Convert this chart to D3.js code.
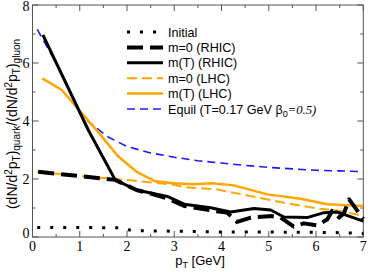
<!DOCTYPE html>
<html><head><meta charset="utf-8">
<script src="https://cdn.jsdelivr.net/npm/d3@7"></script>
<style>body{margin:0;background:#fff}svg{display:block}</style>
</head><body>
<svg id="c" width="368" height="272"></svg>
<script>
// ---- data ----
const xTicks = [0,1,2,3,4,5,6,7];
const yTicks = [0,2,4,6,8];
const initialX = [0.1,1.9,2.1,3,4,5,6,6.5,7];
const initialY = [0.33,0.32,0.22,0.2,0.17,0.17,0.16,0.15,0.12];
const mtRhicX = [0.22,1.18,1.75,2.2,2.5,2.85,3.21,3.77,4.19,4.69,5.04,5.32,5.81,6.17,6.45,7.0];
const mtRhicY = [6.97,3.69,1.97,1.62,1.52,1.4,1.13,1.01,0.86,0.98,0.93,0.69,0.67,0.84,0.86,0.55];
const m0RhicX = [0.12,1.0,1.75,2.2,2.5,2.85,3.21,3.84,4.12,4.33,4.62,5.07,5.25,5.53,5.74,6.03,6.24,6.34,6.49,6.59,6.7,7.0];
const m0RhicY = [2.25,2.1,1.97,1.62,1.5,1.33,1.07,0.9,0.84,0.52,0.67,0.72,0.67,0.36,0.47,0.40,0.61,0.9,0.67,0.82,1.3,0.62];
const m0LhcX = [0.1,1.0,2.0,3.0,3.21,3.91,4.62,5.32,6.03,6.52,7.0];
const m0LhcY = [2.25,2.1,1.97,1.8,1.72,1.64,1.41,1.18,0.98,0.9,0.72];
const mtLhcX = [0.21,0.62,1.4,1.8,2.2,2.6,3.0,3.4,3.8,4.26,4.97,5.67,6.24,7.0];
const mtLhcY = [5.47,5.07,3.6,2.8,2.25,1.92,1.85,1.82,1.85,1.78,1.47,1.32,1.13,1.07];
const eqX = [0.1,0.5,0.8,1.0,1.2,1.4,1.6,2.0,2.5,3.0,3.5,4.0,4.5,5.0,5.5,6.0,6.5,7.0];
const eqY = [7.16,6.0,5.0,4.3,3.95,3.7,3.45,3.12,2.9,2.75,2.63,2.55,2.47,2.4,2.35,2.3,2.28,2.25];
const legendLabels = ["Initial","m=0 (RHIC)","m(T) (RHIC)","m=0 (LHC)","m(T) (LHC)","Equil (T=0.17 GeV β"];

// ---- layout ----
const L=32.5, R=363.3, T=5, B=237;
const svg = d3.select("#c");
const x = d3.scaleLinear().domain([0,7]).range([L,R]);
const y = d3.scaleLinear().domain([0,8]).range([B,T]);
const axisCol = "#555";
const serif = "'Liberation Serif','Times New Roman',serif";
const sans = "'Liberation Sans',Arial,Helvetica,sans-serif";

// frame
svg.append("rect").attr("x",L).attr("y",T).attr("width",R-L).attr("height",B-T)
  .attr("fill","none").attr("stroke",axisCol).attr("stroke-width",1);

// ticks (inside)
const xMinor = d3.range(0,7.01,0.5);
const yMinor = d3.range(0,8.01,1);
const tg = svg.append("g").attr("stroke",axisCol).attr("stroke-width",1);
xMinor.forEach(v=>{
  const maj = Number.isInteger(v); const len = maj?6:3;
  tg.append("line").attr("x1",x(v)).attr("x2",x(v)).attr("y1",B).attr("y2",B-len);
  tg.append("line").attr("x1",x(v)).attr("x2",x(v)).attr("y1",T).attr("y2",T+len);
});
yMinor.forEach(v=>{
  const maj = v%2===0; const len = maj?6:3;
  tg.append("line").attr("y1",y(v)).attr("y2",y(v)).attr("x1",L).attr("x2",L+len);
  tg.append("line").attr("y1",y(v)).attr("y2",y(v)).attr("x1",R).attr("x2",R-len);
});
// tick labels
svg.append("g").selectAll("text").data(xTicks).join("text")
  .attr("x",d=>x(d)).attr("y",B+14).attr("text-anchor","middle")
  .attr("font-family",serif).attr("font-size",14).text(d=>d);
svg.append("g").selectAll("text").data(yTicks).join("text")
  .attr("x",L-3).attr("y",d=>y(d)+(d===0?1:(d===8?6:5))).attr("text-anchor","end")
  .attr("font-family",serif).attr("font-size",14).text(d=>d);

// axis labels
const xl = svg.append("text").attr("x",200).attr("y",265).attr("text-anchor","middle")
  .attr("font-family",sans).attr("font-size",13);
xl.append("tspan").text("p");
xl.append("tspan").attr("font-size",9).attr("dy",3).text("T");
xl.append("tspan").attr("dy",-3).text(" [GeV]");

const yl = svg.append("text").attr("transform","translate(17,124) rotate(-90)")
  .attr("text-anchor","middle").attr("font-family",sans).attr("font-size",14);
const sub = 10;
yl.append("tspan").text("(dN/d");
yl.append("tspan").attr("font-size",sub).attr("dy",-5).text("2");
yl.append("tspan").attr("dy",5).text("p");
yl.append("tspan").attr("font-size",sub).attr("dy",3).text("T");
yl.append("tspan").attr("dy",-3).text(")");
yl.append("tspan").attr("font-size",sub).attr("dy",3).text("quark");
yl.append("tspan").attr("dy",-3).text("/(dN/d");
yl.append("tspan").attr("font-size",sub).attr("dy",-5).text("2");
yl.append("tspan").attr("dy",5).text("p");
yl.append("tspan").attr("font-size",sub).attr("dy",3).text("T");
yl.append("tspan").attr("dy",-3).text(")");
yl.append("tspan").attr("font-size",sub).attr("dy",3).text("gluon");

// series
const series = [
  {xs:initialX, ys:initialY, color:"#000", w:3, dash:"3,10", cap:"butt"},
  {xs:m0RhicX, ys:m0RhicY, color:"#000", w:4, dash:"16,7", cap:"butt"},
  {xs:mtRhicX, ys:mtRhicY, color:"#000", w:3, dash:null, cap:"butt"},
  {xs:m0LhcX, ys:m0LhcY, color:"#ffa500", w:2, dash:"10,5", cap:"butt"},
  {xs:mtLhcX, ys:mtLhcY, color:"#ffa500", w:2.5, dash:null, cap:"butt"},
  {xs:eqX, ys:eqY, color:"#1a1aff", w:1.6, dash:"8,5", cap:"butt"}
];
const line = d3.line().x(d=>x(d[0])).y(d=>y(d[1]));
const plot = svg.append("g");
[5,3,4,2,1,0].forEach(i=>{
  const s = series[i];
  plot.append("path").datum(s.xs.map((v,k)=>[v,s.ys[k]]))
    .attr("d",line).attr("fill","none").attr("stroke",s.color)
    .attr("stroke-width",s.w).attr("stroke-dasharray",s.dash)
    .attr("stroke-linejoin","round").attr("stroke-linecap",s.cap);
});

// legend
const lg = svg.append("g");
const ly0 = 32, ldy = 15.4, lx1 = 127, lx2 = 163, ltx = 168;
series.forEach((s,i)=>{
  const yy = ly0 + i*ldy;
  lg.append("line").attr("x1",lx1).attr("x2",lx2).attr("y1",yy).attr("y2",yy)
    .attr("stroke",s.color).attr("stroke-width",s.w).attr("stroke-dasharray",s.dash);
  const t = lg.append("text").attr("x",ltx).attr("y",yy+4.5)
    .attr("font-family",sans).attr("font-size",12.6).text(legendLabels[i]);
  if(i===5){
    t.append("tspan").attr("font-size",9).attr("dy",3).text("0");
    t.append("tspan").attr("dy",-3).attr("font-family",serif).attr("font-style","italic").text("=0.5)");
  }
});
</script>
</body></html>
